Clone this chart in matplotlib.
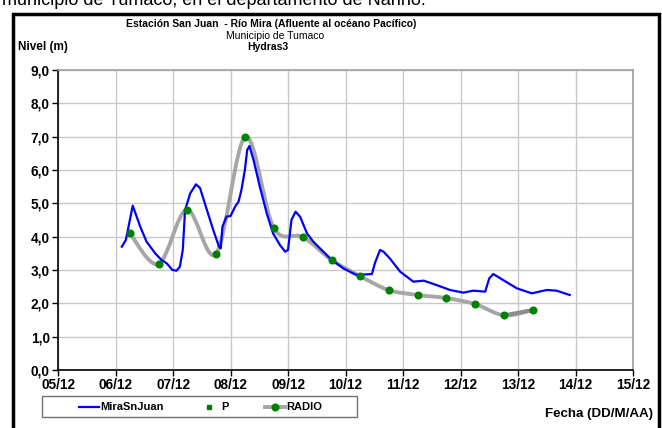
import matplotlib
matplotlib.use("Agg")
import matplotlib.pyplot as plt
import numpy as np
from matplotlib.path import Path
from matplotlib.patches import PathPatch, Rectangle
from matplotlib.lines import Line2D

plt.rcParams['font.family'] = ['Liberation Sans', 'DejaVu Sans']

# dia de diciembre (05/12 = 5)
t_mira = [6.11, 6.18, 6.30, 6.43, 6.54, 6.69, 6.80, 6.89, 6.99, 7.06, 7.12, 7.17,
          7.21, 7.30, 7.40, 7.47, 7.59, 7.70, 7.80, 7.83, 7.86, 7.93, 8.00, 8.08,
          8.14, 8.19, 8.25, 8.29, 8.33, 8.40, 8.51, 8.63, 8.74, 8.86, 8.95, 9.00,
          9.06, 9.13, 9.21, 9.33, 9.44, 9.73, 9.96, 10.19, 10.46, 10.51, 10.60,
          10.66, 10.77, 10.95, 11.18, 11.36, 11.58, 11.82, 12.05, 12.22, 12.43,
          12.50, 12.57, 12.74, 12.98, 13.24, 13.50, 13.67, 13.90]
nivel_mira = [3.70, 3.90, 4.93, 4.30, 3.85, 3.50, 3.30, 3.20, 3.00, 2.98, 3.10, 3.60,
              4.80, 5.30, 5.57, 5.46, 4.80, 4.20, 3.70, 3.65, 4.30, 4.60, 4.62, 4.90,
              5.05, 5.40, 6.00, 6.60, 6.72, 6.30, 5.50, 4.70, 4.10, 3.75, 3.55, 3.60,
              4.50, 4.75, 4.60, 4.10, 3.85, 3.35, 3.05, 2.85, 2.88, 3.20, 3.60,
              3.55, 3.35, 2.95, 2.65, 2.68, 2.55, 2.40, 2.32, 2.38, 2.35,
              2.75, 2.88, 2.70, 2.45, 2.30, 2.40, 2.38, 2.25]

t_radio = [6.25, 6.75, 7.24, 7.75, 8.26, 8.75, 9.26, 9.76, 10.25, 10.75, 11.26,
           11.74, 12.25, 12.76, 13.26]
nivel_radio = [4.10, 3.18, 4.81, 3.49, 7.00, 4.27, 3.99, 3.30, 2.82, 2.40, 2.25,
               2.16, 1.98, 1.64, 1.80]

x_ticks = np.arange(5, 16)
x_labels = ['%02d/12' % d for d in x_ticks]
y_ticks = np.arange(0, 10)
y_labels = [('%.1f' % v).replace('.', ',') for v in y_ticks]

W, H = 662, 428
fig = plt.figure(figsize=(W / 100, H / 100), dpi=100)
ax = fig.add_axes([58 / W, 1 - 370 / H, (633 - 58) / W, (370 - 70) / H])


def smooth_path(xs, ys):
    # curva suavizada tipo Excel (Bezier Catmull-Rom)
    p = np.column_stack([xs, ys])
    n = len(p)
    verts = [p[0]]
    codes = [Path.MOVETO]
    for i in range(n - 1):
        p0 = p[i - 1] if i > 0 else p[i]
        p3 = p[i + 2] if i + 2 < n else p[i + 1]
        c1 = p[i] + (p[i + 1] - p0) / 6
        c2 = p[i + 1] - (p3 - p[i]) / 6
        verts += [c1, c2, p[i + 1]]
        codes += [Path.CURVE4] * 3
    return Path(verts, codes)


ax.add_patch(PathPatch(smooth_path(t_radio, nivel_radio), facecolor='none',
                       edgecolor='#a6a6a6', lw=2.8, zorder=3, capstyle='round'))
ax.add_patch(PathPatch(smooth_path(t_radio[-2:], nivel_radio[-2:]), facecolor='none',
                       edgecolor='#8c8c8c', lw=2.8, zorder=3))
ax.plot(t_mira, nivel_mira, color='#0000ff', lw=1.6, zorder=4)
ax.plot(t_radio, nivel_radio, 'o', color='#008000', ms=4.8, zorder=5, lw=0)

ax.set_xlim(5, 15)
ax.set_ylim(0, 9)
ax.set_xticks(x_ticks)
ax.set_xticklabels(x_labels, fontsize=9.8, fontweight='bold')
ax.set_yticks(y_ticks)
ax.set_yticklabels(y_labels, fontsize=9.8, fontweight='bold')
ax.grid(True, color='#c8c8c8', lw=1)
ax.set_axisbelow(True)
ax.tick_params(direction='out', length=4, width=1, color='black', pad=2)
for s in ['top', 'right']:
    ax.spines[s].set_color('#a0a0a0')
    ax.spines[s].set_linewidth(1.2)
for s in ['left', 'bottom']:
    ax.spines[s].set_color('black')
    ax.spines[s].set_linewidth(1.2)


def fx(px):
    return px / W


def fy(py):
    return 1 - py / H


# marco del grafico
fig.patches.append(Rectangle((fx(12.5), fy(432)), fx(659 - 12.5), (432 - 14) / H,
                             transform=fig.transFigure, fill=False, lw=2.5,
                             edgecolor='black'))

fig.text(fx(2), fy(5), 'municipio de Tumaco, en el departamento de Nariño.',
         fontsize=13, va='baseline', ha='left')
fig.text(fx(271), fy(24), 'Estación San Juan  - Río Mira (Afluente al océano Pacífico)',
         fontsize=7.5, fontweight='bold', ha='center', va='center')
fig.text(fx(275), fy(36), 'Municipio de Tumaco', fontsize=7.5, ha='center', va='center')
fig.text(fx(268), fy(47), 'Hydras3', fontsize=7.5, fontweight='bold', ha='center',
         va='center')
fig.text(fx(18), fy(47), 'Nivel (m)', fontsize=8.5, fontweight='bold', ha='left',
         va='center')
fig.text(fx(653), fy(414), 'Fecha (DD/M/AA)', fontsize=9.6, fontweight='bold',
         ha='right', va='center')

# leyenda
fig.patches.append(Rectangle((fx(42), fy(417)), fx(315), 21 / H,
                             transform=fig.transFigure, fill=False, lw=1,
                             edgecolor='#707070'))
ly = fy(406.5)
fig.lines.append(Line2D([fx(79), fx(99)], [ly, ly], transform=fig.transFigure,
                        color='#0000ff', lw=1.6))
fig.text(fx(100), ly, 'MiraSnJuan', fontsize=8, fontweight='bold', va='center')
fig.lines.append(Line2D([fx(209)], [ly], transform=fig.transFigure, marker='s',
                        color='#008000', ms=3, lw=0))
fig.text(fx(221), ly, 'P', fontsize=8, fontweight='bold', va='center')
fig.lines.append(Line2D([fx(265), fx(285)], [ly, ly], transform=fig.transFigure,
                        color='#a6a6a6', lw=2.8))
fig.lines.append(Line2D([fx(275)], [ly], transform=fig.transFigure, marker='o',
                        color='#008000', ms=4.8, lw=0))
fig.text(fx(286), ly, 'RADIO', fontsize=8, fontweight='bold', va='center')

fig.savefig('out.png', dpi=100)
